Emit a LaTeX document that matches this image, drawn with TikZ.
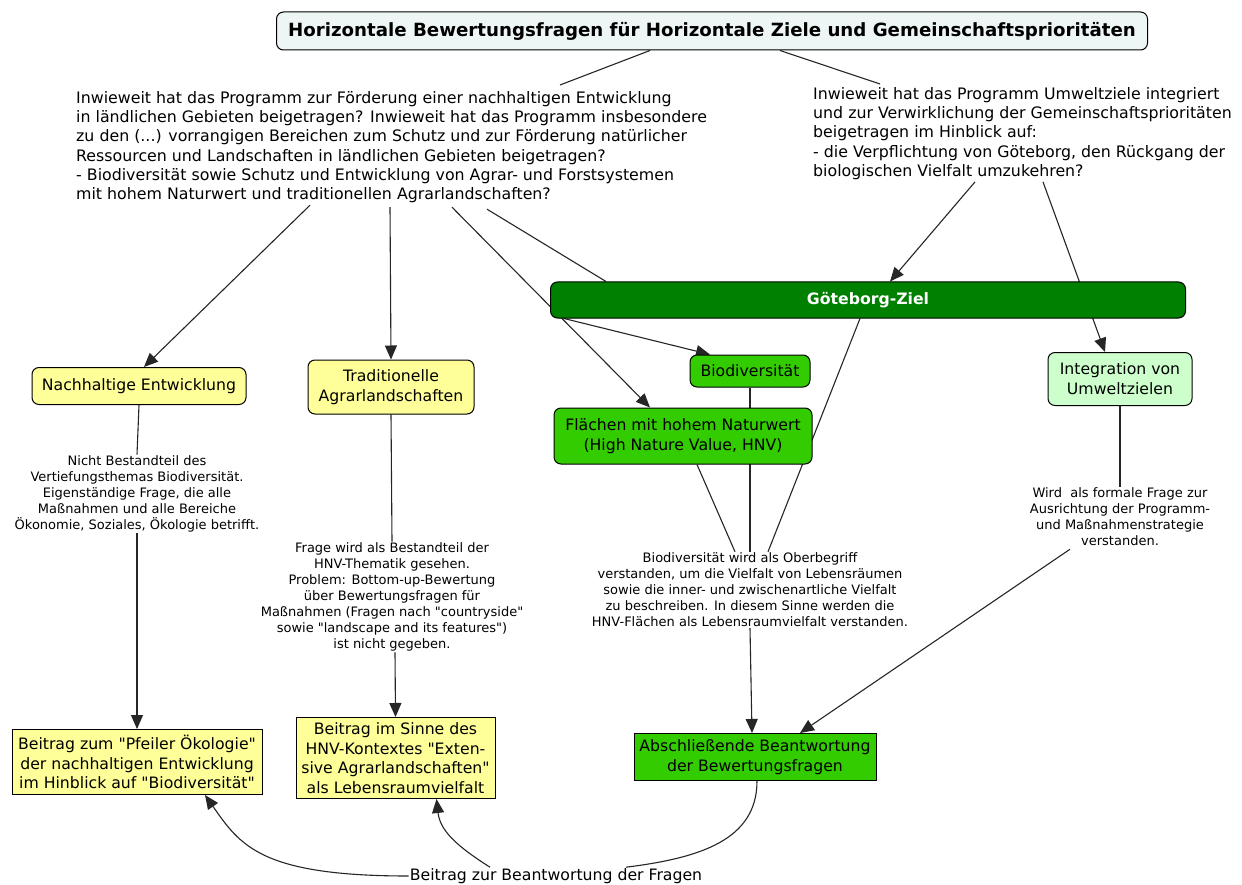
\documentclass[tikz,border=0pt]{standalone}
\usepackage{fontspec}
\setmainfont{DejaVu Sans}
\usetikzlibrary{arrows.meta,backgrounds}
\definecolor{titlefill}{HTML}{EEF5F5}
\definecolor{yel}{HTML}{FFFF99}
\definecolor{grn}{HTML}{33CC00}
\definecolor{dgrn}{HTML}{008000}
\definecolor{lgrn}{HTML}{CCFFCC}
\newcommand{\myq}{\textquotedbl}
\tikzset{
  box/.style={draw=black, line width=1pt, rounded corners=7pt, align=center, inner sep=2pt,
    font=\fontsize{15.7}{20}\selectfont},
  sqbox/.style={draw=black, line width=1pt, align=center, inner sep=2pt,
    font=\fontsize{15.7}{19.5}\selectfont},
  bigtxt/.style={align=left, inner sep=0pt, font=\fontsize{15.8}{19.3}\selectfont},
  smalltxt/.style={align=center, inner sep=1pt, font=\fontsize{13}{16}\selectfont},
  conn/.style={line width=1.1pt, draw=black!85},
  arr/.style={conn, -{Triangle[length=14pt,width=12pt]}},
}
\begin{document}
\begin{tikzpicture}[x=1pt,y=-1pt]
\useasboundingbox (0,0) rectangle (1242,885);

% nodes
\node[box, fill=titlefill, minimum width=871pt, minimum height=38pt,
  font=\bfseries\fontsize{18.2}{22}\selectfont] (title) at (712,31)
  {Horizontale Bewertungsfragen für Horizontale Ziele und Gemeinschaftsprioritäten};

\node[bigtxt, anchor=north west] (lq) at (76,91)
  {Inwieweit hat das Programm zur Förderung einer nachhaltigen Entwicklung\\
   in ländlichen Gebieten beigetragen? Inwieweit hat das Programm insbesondere\\
   zu den (...) vorrangigen Bereichen zum Schutz und zur Förderung natürlicher\\
   Ressourcen und Landschaften in ländlichen Gebieten beigetragen?\\
   - Biodiversität sowie Schutz und Entwicklung von Agrar- und Forstsystemen\\
   mit hohem Naturwert und traditionellen Agrarlandschaften?};

\node[bigtxt, anchor=north west] (rq) at (813,87)
  {Inwieweit hat das Programm Umweltziele integriert\\
   und zur Verwirklichung der Gemeinschaftsprioritäten\\
   beigetragen im Hinblick auf:\\
   - die Verpflichtung von Göteborg, den Rückgang der\\
   biologischen Vielfalt umzukehren?};

\node[box, fill=dgrn, text=white, minimum width=635pt, minimum height=36pt,
  font=\bfseries\fontsize{15.7}{19}\selectfont] (goz) at (868,300) {Göteborg-Ziel};

\node[box, fill=yel, minimum width=214pt, minimum height=37pt] (nach) at (139,386)
  {Nachhaltige Entwicklung};
\node[box, fill=yel, minimum width=166pt, minimum height=54pt] (trad) at (391,387)
  {Traditionelle\\Agrarlandschaften};
\node[box, fill=grn, minimum width=120pt, minimum height=32pt] (bio) at (750,371)
  {Biodiversität};
\node[box, fill=grn, minimum width=258pt, minimum height=56pt] (hnv) at (683,436)
  {Flächen mit hohem Naturwert\\(High Nature Value, HNV)};
\node[box, fill=lgrn, minimum width=144pt, minimum height=53pt] (integ) at (1120,379)
  {Integration von\\Umweltzielen};

\node[smalltxt] (t1) at (137,494)
  {Nicht Bestandteil des\\Vertiefungsthemas Biodiversität.\\Eigenständige Frage, die alle\\
   Maßnahmen und alle Bereiche\\Ökonomie, Soziales, Ökologie betrifft.};
\node[smalltxt] (t2) at (392,597)
  {Frage wird als Bestandteil der\\HNV-Thematik gesehen.\\Problem: Bottom-up-Bewertung\\
   über Bewertungsfragen für\\Maßnahmen (Fragen nach \myq countryside\myq\\
   sowie \myq landscape and its features\myq)\\ist nicht gegeben.};
\node[smalltxt] (t3) at (750,590)
  {Biodiversität wird als Oberbegriff\\verstanden, um die Vielfalt von Lebensräumen\\
   sowie die inner- und zwischenartliche Vielfalt\\zu beschreiben. In diesem Sinne werden die\\
   HNV-Flächen als Lebensraumvielfalt verstanden.};
\node[smalltxt] (t4) at (1120,517)
  {Wird\ \ als formale Frage zur\\Ausrichtung der Programm-\\und Maßnahmenstrategie\\verstanden.};

\node[sqbox, fill=yel, minimum width=250pt, minimum height=65pt] (b1) at (137,762)
  {Beitrag zum \myq Pfeiler Ökologie\myq\\der nachhaltigen Entwicklung\\im Hinblick auf \myq Biodiversität\myq};
\node[sqbox, fill=yel, minimum width=199pt, minimum height=81pt] (b2) at (395.5,758)
  {Beitrag im Sinne des\\HNV-Kontextes \myq Exten-\\sive Agrarlandschaften\myq\\als Lebensraumvielfalt};
\node[sqbox, fill=grn, minimum width=242pt, minimum height=47pt] (b3) at (755,757)
  {Abschließende Beantwortung\\der Bewertungsfragen};

\node[inner sep=1pt, font=\fontsize{15.7}{19}\selectfont] (bz) at (556,876)
  {Beitrag zur Beantwortung der Fragen};

% connectors
\begin{scope}[on background layer]
\fill[white] (0,0) rectangle (1242,885);
\draw[conn] ([xshift=-62pt]title.south) -- ([xshift=484pt,yshift=6pt]lq.north west);
\draw[conn] ([xshift=68pt]title.south) -- ([xshift=67pt,yshift=3pt]rq.north west);

\draw[arr] ([xshift=234pt,yshift=-2pt]lq.south west) -- ([xshift=5pt]nach.north);
\draw[arr] ([xshift=314pt,yshift=-4pt]lq.south west) -- (trad.north);
\draw[arr] ([xshift=376pt,yshift=-4pt]lq.south west) -- ([xshift=-33pt]hnv.north);
\draw[conn] ([xshift=411pt,yshift=-6pt]lq.south west) -- ([xshift=56pt]goz.north west);
\draw[arr] ([xshift=14pt]goz.south west) -- ([xshift=-40pt]bio.north);

\draw[arr] ([xshift=162pt,yshift=-2pt]rq.south west) -- ([xshift=22pt]goz.north);
\draw[arr] ([xshift=230pt,yshift=-2pt]rq.south west) -- ([xshift=-15pt]integ.north);

\draw[conn] ([xshift=-8pt]goz.south) -- ([xshift=18pt]t3.north);
\draw[conn] (bio.south) -- (t3.north);
\draw[conn] ([xshift=14pt]hnv.south) -- ([xshift=-15pt]t3.north);
\draw[arr] (t3.south) -- ([xshift=-3pt]b3.north);

\draw[conn] (integ.south) -- (t4.north);
\draw[arr] ([xshift=-50pt,yshift=-2pt]t4.south) -- ([xshift=45pt]b3.north);

\draw[conn] (nach.south) -- (t1.north);
\draw[arr] (t1.south) -- (b1.north);
\draw[conn] (trad.south) -- (t2.north);
\draw[arr] ([xshift=3pt]t2.south) -- (b2.north);

\draw[conn] ([xshift=2pt]b3.south) .. controls (757,840) and (700,858) .. ([xshift=70pt]bz.north);
\draw[arr] (bz.west) .. controls (260,876) and (240,845) .. ([xshift=68pt]b1.south);
\draw[arr] ([xshift=-66pt]bz.north) .. controls (455,845) and (440,830) .. ([xshift=41pt]b2.south);
\end{scope}
\end{tikzpicture}
\end{document}
